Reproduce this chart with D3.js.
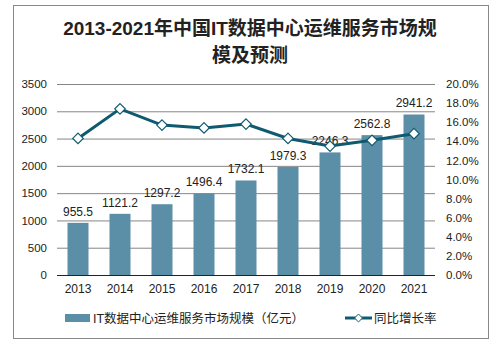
<!DOCTYPE html>
<html>
<head>
<meta charset="utf-8">
<script src="https://cdn.jsdelivr.net/npm/d3@7"></script>
<style>
	body { margin: 0; background: #fff; }
	svg text { font-family: "Liberation Sans", Arial, "Noto Sans CJK SC", sans-serif; fill: #222; }
</style>
</head>
<body>
<div id="chart"></div>
<script>
var w = 500;
var h = 344;

var years = ["2013", "2014", "2015", "2016", "2017", "2018", "2019", "2020", "2021"];
var marketSize = [955.5, 1121.2, 1297.2, 1496.4, 1732.1, 1979.3, 2246.3, 2562.8, 2941.2];
var growthRate = [14.3, 17.4, 15.7, 15.4, 15.8, 14.3, 13.5, 14.1, 14.8];
var leftTicks = [0, 500, 1000, 1500, 2000, 2500, 3000, 3500];
var rightTicks = [0, 2, 4, 6, 8, 10, 12, 14, 16, 18, 20];

var titleLines = ["2013-2021年中国IT数据中心运维服务市场规", "模及预测"];
var barName = "IT数据中心运维服务市场规模（亿元）";
var lineName = "同比增长率";

var barColor = "#5b8fa7";
var lineColor = "#0e5a70";

var plot = { left: 57, right: 435, top: 84, bottom: 275 };

var svg = d3.select("#chart")
	.append("svg")
	.attr("width", w)
	.attr("height", h);

// outer frame
svg.append("rect")
	.attr("x", 13.5)
	.attr("y", 5.5)
	.attr("width", 475)
	.attr("height", 333)
	.attr("fill", "none")
	.attr("stroke", "#888")
	.attr("stroke-width", 1);

svg.selectAll(".title")
	.data(titleLines)
	.enter()
	.append("text")
	.attr("class", "title")
	.attr("x", 250)
	.attr("y", (d, i) => 35 + i * 27)
	.attr("text-anchor", "middle")
	.attr("font-size", "19px")
	.attr("font-weight", "bold")
	.text(d => d);

var x = d3.scaleBand()
	.domain(years)
	.range([plot.left, plot.right])
	.paddingInner(0.5)
	.paddingOuter(0.25);

var y = d3.scaleLinear()
	.domain([0, 3500])
	.range([plot.bottom, plot.top]);

var y2 = d3.scaleLinear()
	.domain([0, 20])
	.range([plot.bottom, plot.top]);

// gridlines
svg.append("g")
	.attr("transform", "translate(" + plot.left + ",0)")
	.call(d3.axisLeft(y).tickValues(leftTicks).tickSize(-(plot.right - plot.left)).tickFormat(""))
	.call(g => g.select(".domain").remove())
	.call(g => g.selectAll("line").attr("stroke", "#868686"));

// left axis labels
svg.append("g")
	.attr("transform", "translate(" + plot.left + ",0)")
	.call(d3.axisLeft(y).tickValues(leftTicks).tickSize(0).tickPadding(10).tickFormat(d3.format("d")))
	.call(g => g.select(".domain").remove())
	.call(g => g.selectAll("text").attr("font-size", "11.5px").attr("fill", "#222"));

// right axis labels
svg.append("g")
	.attr("transform", "translate(" + plot.right + ",0)")
	.call(d3.axisRight(y2).tickValues(rightTicks).tickSize(0).tickPadding(11).tickFormat(d => d.toFixed(1) + "%"))
	.call(g => g.select(".domain").remove())
	.call(g => g.selectAll("text").attr("font-size", "11.5px").attr("fill", "#222"));

// bars
svg.selectAll(".bar")
	.data(marketSize)
	.enter()
	.append("rect")
	.attr("class", "bar")
	.attr("x", (d, i) => x(years[i]))
	.attr("y", d => y(d))
	.attr("width", x.bandwidth())
	.attr("height", d => y(0) - y(d))
	.attr("fill", barColor);

// x axis
svg.append("g")
	.attr("transform", "translate(0," + plot.bottom + ")")
	.call(d3.axisBottom(x).tickSize(0).tickPadding(9))
	.call(g => g.select(".domain").attr("stroke", "#222").attr("d", "M" + plot.left + ",0.5H" + plot.right))
	.call(g => g.selectAll("text").attr("font-size", "12px").attr("fill", "#222"));

// bar value labels
svg.selectAll(".barLabel")
	.data(marketSize)
	.enter()
	.append("text")
	.attr("class", "barLabel")
	.attr("x", (d, i) => x(years[i]) + x.bandwidth() / 2)
	.attr("y", d => y(d) - 7)
	.attr("text-anchor", "middle")
	.attr("font-size", "12px")
	.text(d => d.toFixed(1));

// growth line
var line = d3.line()
	.x((d, i) => x(years[i]) + x.bandwidth() / 2)
	.y(d => y2(d));

svg.append("path")
	.datum(growthRate)
	.attr("d", line)
	.attr("fill", "none")
	.attr("stroke", lineColor)
	.attr("stroke-width", 3);

var diamond = d3.symbol().type(d3.symbolDiamond2).size(70);

svg.selectAll(".marker")
	.data(growthRate)
	.enter()
	.append("path")
	.attr("class", "marker")
	.attr("d", diamond)
	.attr("transform", (d, i) => "translate(" + (x(years[i]) + x.bandwidth() / 2) + "," + y2(d) + ")")
	.attr("fill", "#fff")
	.attr("stroke", lineColor)
	.attr("stroke-width", 1.2);

// legend
var legend = svg.append("g");

legend.append("rect")
	.attr("x", 65)
	.attr("y", 314)
	.attr("width", 25)
	.attr("height", 8)
	.attr("fill", barColor);

legend.append("text")
	.attr("x", 93)
	.attr("y", 322.5)
	.attr("font-size", "12.5px")
	.text(barName);

legend.append("line")
	.attr("x1", 345)
	.attr("x2", 372)
	.attr("y1", 318)
	.attr("y2", 318)
	.attr("stroke", lineColor)
	.attr("stroke-width", 3);

legend.append("path")
	.attr("d", d3.symbol().type(d3.symbolDiamond2).size(40))
	.attr("transform", "translate(358.5,318)")
	.attr("fill", "#fff")
	.attr("stroke", lineColor)
	.attr("stroke-width", 1);

legend.append("text")
	.attr("x", 374)
	.attr("y", 322.5)
	.attr("font-size", "12.5px")
	.text(lineName);
</script>
</body>
</html>
